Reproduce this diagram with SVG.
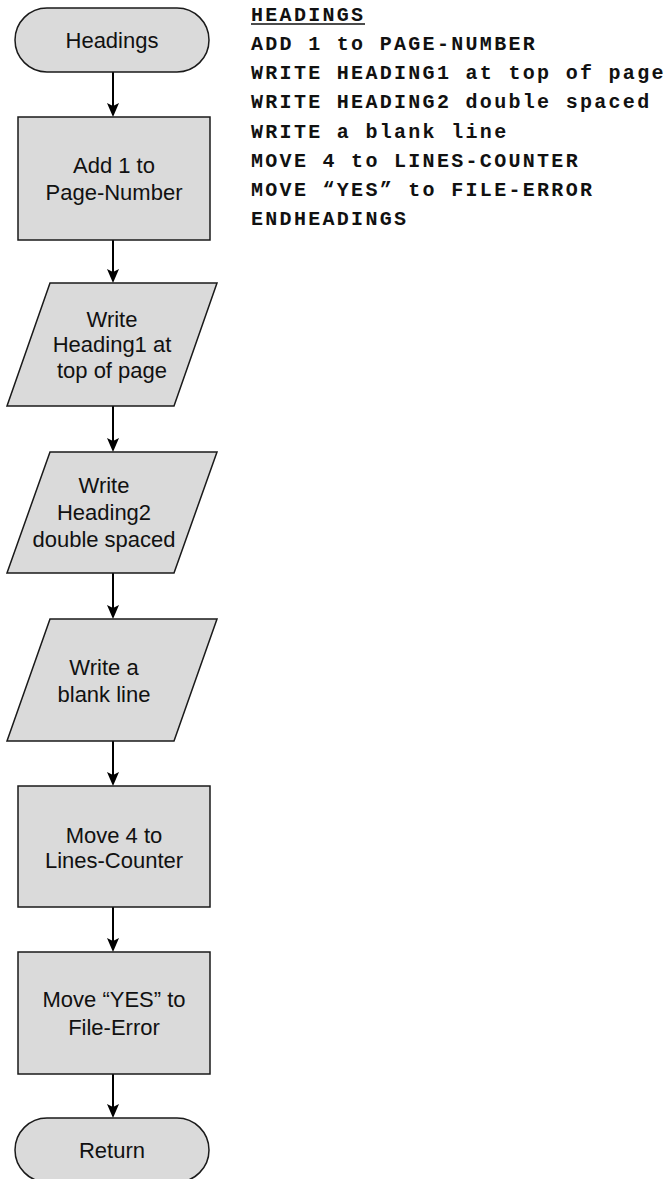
<svg xmlns="http://www.w3.org/2000/svg" width="668" height="1179" viewBox="0 0 668 1179">
  <style>
    .shape { fill: #dadada; stroke: #1a1a1a; stroke-width: 1.5; }
    .label { font-family: "Liberation Sans", Arial, sans-serif; font-size: 22px; fill: #111; text-anchor: middle; }
    .code { font-family: "Liberation Mono", "Courier New", monospace; font-size: 20px; font-weight: bold; letter-spacing: 2.3px; fill: #111; }
    .flow { stroke: #000; stroke-width: 2; fill: none; }
    .head { fill: #000; }
  </style>

  <rect width="668" height="1179" fill="#fff"/>

  <!-- connectors: vertical flow lines with filled arrowheads -->
  <g id="connectors">
    <line class="flow" x1="113" y1="72" x2="113" y2="106"/>
    <line class="flow" x1="113" y1="240" x2="113" y2="272"/>
    <line class="flow" x1="113" y1="406" x2="113" y2="441"/>
    <line class="flow" x1="113" y1="573" x2="113" y2="608"/>
    <line class="flow" x1="113" y1="741" x2="113" y2="775"/>
    <line class="flow" x1="113" y1="907" x2="113" y2="941"/>
    <line class="flow" x1="113" y1="1074" x2="113" y2="1107"/>
    <path class="head" d="M107,103 L113,106 L119,103 L113,117 Z"/>
    <path class="head" d="M107,269 L113,272 L119,269 L113,283 Z"/>
    <path class="head" d="M107,438 L113,441 L119,438 L113,452 Z"/>
    <path class="head" d="M107,605 L113,608 L119,605 L113,619 Z"/>
    <path class="head" d="M107,772 L113,775 L119,772 L113,786 Z"/>
    <path class="head" d="M107,938 L113,941 L119,938 L113,952 Z"/>
    <path class="head" d="M107,1104 L113,1107 L119,1104 L113,1118 Z"/>
  </g>

  <g id="start">
    <rect class="shape" x="15" y="8" width="194" height="64" rx="32" ry="32"/>
    <text class="label" x="112" y="48">Headings</text>
  </g>

  <g id="add-page">
    <rect class="shape" x="18" y="117" width="192" height="123"/>
    <text class="label" x="114" y="173">Add 1 to</text>
    <text class="label" x="114" y="200">Page-Number</text>
  </g>

  <g id="write-heading1">
    <polygon class="shape" points="50,283 217,283 174,406 7,406"/>
    <text class="label" x="112" y="327">Write</text>
    <text class="label" x="112" y="352">Heading1 at</text>
    <text class="label" x="112" y="378">top of page</text>
  </g>

  <g id="write-heading2">
    <polygon class="shape" points="50,452 217,452 174,573 7,573"/>
    <text class="label" x="104" y="493">Write</text>
    <text class="label" x="104" y="520">Heading2</text>
    <text class="label" x="104" y="547">double spaced</text>
  </g>

  <g id="write-blank">
    <polygon class="shape" points="50,619 217,619 174,741 7,741"/>
    <text class="label" x="104" y="675">Write a</text>
    <text class="label" x="104" y="702">blank line</text>
  </g>

  <g id="move-lines">
    <rect class="shape" x="18" y="786" width="192" height="121"/>
    <text class="label" x="114" y="843">Move 4 to</text>
    <text class="label" x="114" y="868">Lines-Counter</text>
  </g>

  <g id="move-yes">
    <rect class="shape" x="18" y="952" width="192" height="122"/>
    <text class="label" x="114" y="1007">Move “YES” to</text>
    <text class="label" x="114" y="1035">File-Error</text>
  </g>

  <g id="return">
    <rect class="shape" x="15" y="1118" width="194" height="64" rx="32" ry="32"/>
    <text class="label" x="112" y="1158">Return</text>
  </g>

  <!-- pseudocode listing -->
  <g id="pseudocode">
    <text class="code" x="251" y="21">HEADINGS</text>
    <line x1="251" y1="24" x2="365" y2="24" stroke="#111" stroke-width="1.5"/>
    <text class="code" x="251" y="50">ADD 1 to PAGE-NUMBER</text>
    <text class="code" x="251" y="79">WRITE HEADING1 at top of page</text>
    <text class="code" x="251" y="108">WRITE HEADING2 double spaced</text>
    <text class="code" x="251" y="138">WRITE a blank line</text>
    <text class="code" x="251" y="167">MOVE 4 to LINES-COUNTER</text>
    <text class="code" x="251" y="196">MOVE “YES” to FILE-ERROR</text>
    <text class="code" x="251" y="225">ENDHEADINGS</text>
  </g>
</svg>
